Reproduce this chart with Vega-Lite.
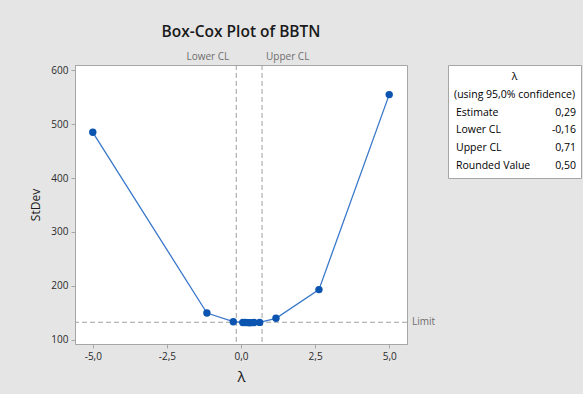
{
  "$schema": "https://vega.github.io/schema/vega-lite/v6.json",
  "background": "#e5e5e5",
  "padding": {"left": 29, "top": 24, "right": 3, "bottom": 10},
  "config": {
    "font": "Open Sans",
    "concat": {"spacing": 41},
    "axis": {"grid": false, "domainColor": "#a6a6a6", "tickColor": "#a6a6a6", "labelColor": "#2a2a2a", "labelFontSize": 10, "titleColor": "#1a1a1a", "titleFontWeight": "normal", "labelFont": "Open Sans", "titleFont": "Open Sans"}
  },
  "bounds": "flush",
  "datasets": {
    "curve": [
      {"lambda": -5.0, "stdev": 485},
      {"lambda": -1.15, "stdev": 149.5},
      {"lambda": -0.26, "stdev": 133.4},
      {"lambda": 0.06, "stdev": 132.0},
      {"lambda": 0.14, "stdev": 131.8},
      {"lambda": 0.22, "stdev": 131.7},
      {"lambda": 0.29, "stdev": 131.6},
      {"lambda": 0.37, "stdev": 131.7},
      {"lambda": 0.44, "stdev": 131.8},
      {"lambda": 0.63, "stdev": 132.1},
      {"lambda": 1.18, "stdev": 139.7},
      {"lambda": 2.63, "stdev": 193},
      {"lambda": 5.0, "stdev": 555}
    ],
    "cl": [
      {"name": "Lower CL", "lambda": -0.16},
      {"name": "Upper CL", "lambda": 0.71}
    ],
    "limit": [{"name": "Limit", "stdev": 132.4}],
    "table": [
      {"row": "h1", "name": "λ"},
      {"row": "h2", "name": "(using 95,0% confidence)"},
      {"row": "Estimate", "name": "Estimate", "value": "0,29"},
      {"row": "Lower CL", "name": "Lower CL", "value": "-0,16"},
      {"row": "Upper CL", "name": "Upper CL", "value": "0,71"},
      {"row": "Rounded Value", "name": "Rounded Value", "value": "0,50"}
    ]
  },
  "hconcat": [
    {
      "width": 332,
      "height": 279,
      "title": {"text": "Box-Cox Plot of BBTN", "anchor": "middle", "fontSize": 15.5, "fontWeight": 600, "font": "Open Sans", "color": "#1a1a1a", "offset": 12},
      "view": {"fill": "white", "stroke": "#a6a6a6"},
      "layer": [
        {
          "data": {"name": "cl"},
          "mark": {"type": "rule", "strokeDash": [5, 3], "color": "#a0a0a0", "strokeWidth": 1},
          "encoding": {
            "x": {"field": "lambda", "type": "quantitative", "scale": {"domain": [-5.6, 5.6], "nice": false, "zero": false}}
          }
        },
        {
          "data": {"name": "cl"},
          "transform": [{"filter": "datum.name == 'Lower CL'"}],
          "mark": {"type": "text", "align": "right", "baseline": "middle", "dx": -7, "dy": -8, "fontSize": 10, "color": "#6e6e6e"},
          "encoding": {
            "x": {"field": "lambda", "type": "quantitative"},
            "y": {"datum": 610, "type": "quantitative"},
            "text": {"field": "name"}
          }
        },
        {
          "data": {"name": "cl"},
          "transform": [{"filter": "datum.name == 'Upper CL'"}],
          "mark": {"type": "text", "align": "left", "baseline": "middle", "dx": 4, "dy": -8, "fontSize": 10, "color": "#6e6e6e"},
          "encoding": {
            "x": {"field": "lambda", "type": "quantitative"},
            "y": {"datum": 610, "type": "quantitative"},
            "text": {"field": "name"}
          }
        },
        {
          "data": {"name": "limit"},
          "mark": {"type": "rule", "strokeDash": [5, 3], "color": "#a0a0a0", "strokeWidth": 1},
          "encoding": {
            "y": {"field": "stdev", "type": "quantitative"}
          }
        },
        {
          "data": {"name": "limit"},
          "mark": {"type": "text", "align": "left", "baseline": "middle", "dx": 5, "fontSize": 10, "color": "#6e6e6e"},
          "encoding": {
            "x": {"datum": 5.6, "type": "quantitative"},
            "y": {"field": "stdev", "type": "quantitative"},
            "text": {"field": "name"}
          }
        },
        {
          "data": {"name": "curve"},
          "mark": {"type": "line", "color": "#3a78c9", "strokeWidth": 1.3},
          "encoding": {
            "x": {"field": "lambda", "type": "quantitative", "scale": {"domain": [-5.6, 5.6], "nice": false, "zero": false},
              "axis": {"values": [-5, -2.5, 0, 2.5, 5], "labelExpr": "replace(replace(format(datum.value, '.1f'), '.', ','), '−', '-')", "title": "λ", "titleFontSize": 15, "titlePadding": 8, "tickSize": 4, "labelPadding": 3}},
            "y": {"field": "stdev", "type": "quantitative", "scale": {"domain": [92, 610], "nice": false, "zero": false},
              "axis": {"values": [100, 200, 300, 400, 500, 600], "title": "StDev", "titleFontSize": 12, "titlePadding": 8, "tickSize": 4, "labelPadding": 3}}
          }
        },
        {
          "data": {"name": "curve"},
          "mark": {"type": "point", "filled": true, "color": "#0b55b0", "size": 55, "opacity": 1},
          "encoding": {
            "x": {"field": "lambda", "type": "quantitative"},
            "y": {"field": "stdev", "type": "quantitative"}
          }
        }
      ]
    },
    {
      "width": 133,
      "height": 113,
      "data": {"name": "table"},
      "view": {"fill": "white", "stroke": "#a6a6a6"},
      "encoding": {
        "y": {"field": "row", "type": "ordinal", "scale": {"type": "point", "domain": ["h1", "h2", "Estimate", "Lower CL", "Upper CL", "Rounded Value"], "padding": 0.65}, "axis": null}
      },
      "layer": [
        {
          "transform": [{"filter": "!datum.value"}],
          "mark": {"type": "text", "align": "center", "baseline": "middle", "fontSize": 10.5, "color": "#000000"},
          "encoding": {"text": {"field": "name"}}
        },
        {
          "transform": [{"filter": "datum.value"}],
          "mark": {"type": "text", "align": "left", "baseline": "middle", "dx": 8, "fontSize": 10.5, "color": "#000000"},
          "encoding": {
            "x": {"datum": 0, "type": "quantitative", "scale": {"domain": [0, 1]}, "axis": null},
            "text": {"field": "name"}
          }
        },
        {
          "transform": [{"filter": "datum.value"}],
          "mark": {"type": "text", "align": "right", "baseline": "middle", "dx": -5, "fontSize": 10.5, "color": "#000000"},
          "encoding": {
            "x": {"datum": 1, "type": "quantitative", "scale": {"domain": [0, 1]}, "axis": null},
            "text": {"field": "value"}
          }
        }
      ]
    }
  ]
}
